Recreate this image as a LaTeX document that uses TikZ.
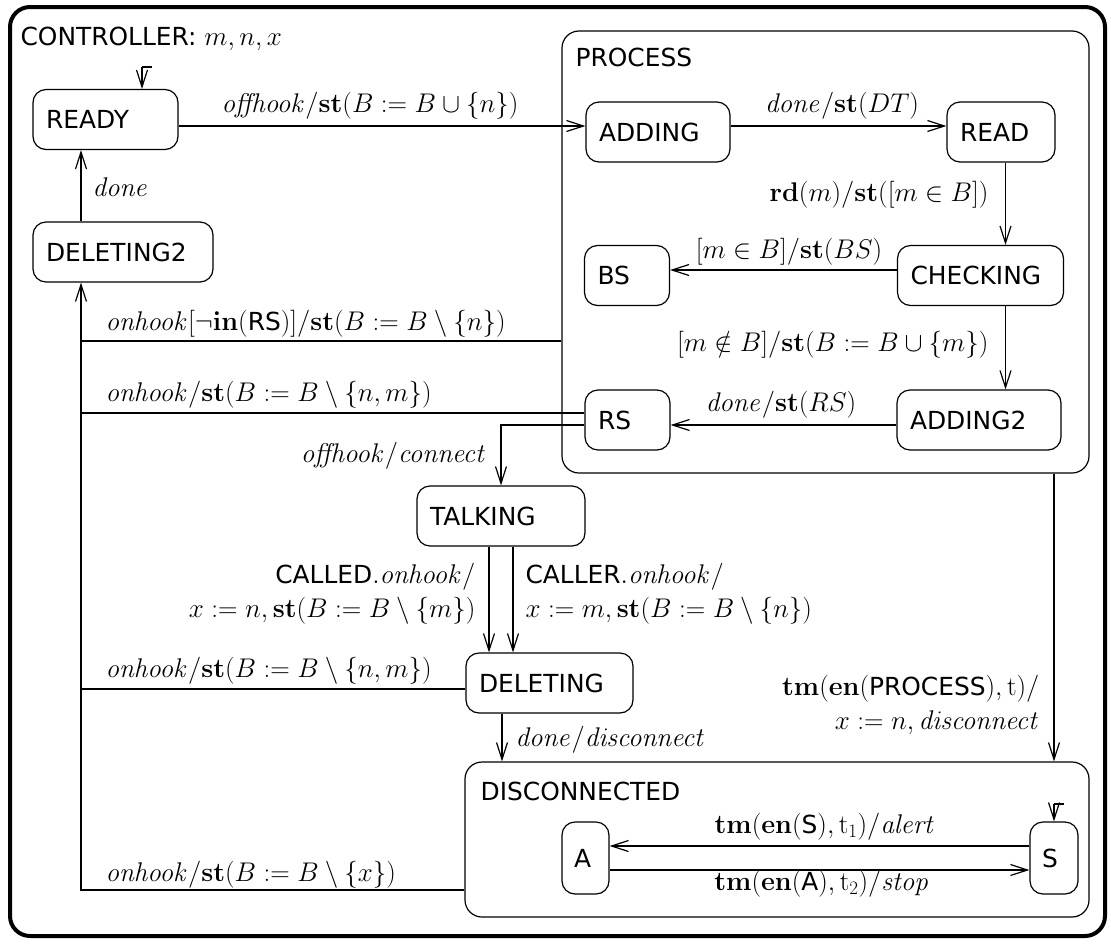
\RequirePackage{fix-cm}
\documentclass[tikz,border=0pt]{standalone}
\usepackage[no-math]{fontspec}
\setsansfont{DejaVu Sans}
\DeclareMathSizes{24.88}{27}{19}{14}
\usetikzlibrary{arrows.meta}
\begin{document}
\begin{tikzpicture}[x=1pt,y=-1pt, line width=1.2pt,
  font=\fontsize{24.88}{34}\selectfont,
  arr/.style={-{Straight Barb[length=17pt,width=11pt]}},
  sf/.style={font=\fontsize{24.88}{34}\selectfont\sffamily},
  sbox/.style={draw, rounded corners=13pt, inner xsep=13pt, inner ysep=0pt,
    minimum height=60pt, align=left, sf},
  cont/.style={draw, rounded corners=17pt, inner sep=0pt},
  lbl/.style={inner sep=0pt}]
\useasboundingbox (0,0) rectangle (1111,943);
% containers
\node[cont, line width=4pt, rounded corners=20pt, minimum width=1095pt, minimum height=929pt] (controller) at (557.5,471.5) {};
\node[cont, minimum width=527pt, minimum height=442pt] (process) at (825.5,252) {};
\node[cont, minimum width=624pt, minimum height=155pt] (disconnected) at (777,839.5) {};
\node[lbl, sf, anchor=base west] (ctllbl) at (20,45) {CONTROLLER: $m, n, x$};
\node[lbl, sf, anchor=base west] (proclbl) at (575,66) {PROCESS};
\node[lbl, sf, anchor=base west] (disclbl) at (480,800) {DISCONNECTED};
% states
\node[sbox, text width=119pt] (ready) at (105.5,119.5) {READY};
\node[sbox, text width=154pt] (deleting2) at (123,252) {DELETING2};
\node[sbox, text width=118pt] (adding) at (658,132) {ADDING};
\node[sbox, text width=82pt] (read) at (1001,132) {READ};
\node[sbox, text width=59pt] (bs) at (627,275.5) {BS};
\node[sbox, text width=140pt] (checking) at (980.5,275.5) {CHECKING};
\node[sbox, text width=138pt] (adding2) at (979,420) {ADDING2};
\node[sbox, text width=59pt] (rs) at (627.5,420) {RS};
\node[sbox, text width=142pt] (talking) at (501,516) {TALKING};
\node[sbox, text width=141pt] (deleting) at (549.5,683) {DELETING};
\node[sbox, inner xsep=12pt, text width=23pt, minimum height=72pt] (a) at (585.5,858) {A};
\node[sbox, inner xsep=12pt, text width=24pt, minimum height=72pt] (s) at (1054,858) {S};
% helper coordinates
\coordinate (h126) at (0,126);
\coordinate (h270) at (0,270);
\coordinate (h425) at (0,425);
\coordinate (h341) at (0,341);
\coordinate (h413) at (0,413);
\coordinate (h689) at (0,689);
\coordinate (h890) at (0,890);
\coordinate (h846) at (0,846);
\coordinate (h870) at (0,870);
\coordinate (v1005) at (1005.5,0);
\coordinate (v489) at (489,0);
\coordinate (v513) at (513,0);
\coordinate (v502) at (502,0);
\coordinate (bus) at (81,0);
\coordinate (i1) at (142,67);
\coordinate (i2) at (1054,804);
% initial markers
\draw[arr] (i1) -- (i1 |- ready.north);
\draw (i1) -- ++(10,0);
\draw[arr] (i2) -- (i2 |- s.north);
\draw (i2) -- ++(10,0);
% transitions
\draw[arr] (ready.east |- h126) -- (adding.west |- h126);
\draw[arr] (adding.east |- h126) -- (read.west |- h126);
\draw[arr] (read.south -| v1005) -- (checking.north -| v1005);
\draw[arr] (checking.west |- h270) -- (bs.east |- h270);
\draw[arr] (checking.south -| v1005) -- (adding2.north -| v1005);
\draw[arr] (adding2.west |- h425) -- (rs.east |- h425);
\draw[arr] (rs.west |- h425) -| (talking.north);
\draw[arr] (talking.south -| v489) -- (deleting.north -| v489);
\draw[arr] (talking.south -| v513) -- (deleting.north -| v513);
\draw[arr] (deleting.south -| v502) -- (disconnected.north -| v502);
\draw[arr] (process.south -| s) -- (disconnected.north -| s);
\draw[arr] (s.west |- h846) -- (a.east |- h846);
\draw[arr] (a.east |- h870) -- (s.west |- h870);
\draw[arr] (deleting2.north -| bus) -- (ready.south -| bus);
\draw[arr] (disconnected.west |- h890) -| (deleting2.south -| bus);
\draw (process.west |- h341) -- (bus |- h341);
\draw (rs.west |- h413) -- (bus |- h413);
\draw (deleting.west |- h689) -- (bus |- h689);
% labels
\node[lbl, anchor=base] (l1) at (370,112) {$\mathit{offhook}/\mathbf{st}(B := B \cup \{n\})$};
\node[lbl, anchor=base] (l2) at (842,112) {$\mathit{done}/\mathbf{st}(DT)$};
\node[lbl, anchor=base east] (l3) at (989,201) {$\mathbf{rd}(m)/\mathbf{st}([m \in B])$};
\node[lbl, anchor=base] (l4) at (789,258) {$[m \in B]/\mathbf{st}(BS)$};
\node[lbl, anchor=base east] (l5) at (989,351) {$[m \notin B]/\mathbf{st}(B := B \cup \{m\})$};
\node[lbl, anchor=base] (l6) at (781,411) {$\mathit{done}/\mathbf{st}(RS)$};
\node[lbl, anchor=base west] (l7) at (105,330) {$\mathit{onhook}[\neg\mathbf{in}(\textsf{RS})]/\mathbf{st}(B := B \setminus \{n\})$};
\node[lbl, anchor=base west] (l8) at (105,401) {$\mathit{onhook}/\mathbf{st}(B := B \setminus \{n, m\})$};
\node[lbl, anchor=base east] (l9) at (487,462) {$\mathit{offhook}/\mathit{connect}$};
\node[lbl, anchor=east, align=right] (l10) at (476,594) {\textsf{CALLED}$.\mathit{onhook}/$\\$x := n, \mathbf{st}(B := B \setminus \{m\})$};
\node[lbl, anchor=west, align=left] (l11) at (525,594) {\textsf{CALLER}$.\mathit{onhook}/$\\$x := m, \mathbf{st}(B := B \setminus \{n\})$};
\node[lbl, anchor=base west] (l12) at (105,677) {$\mathit{onhook}/\mathbf{st}(B := B \setminus \{n, m\})$};
\node[lbl, anchor=base west] (l13) at (515,746) {$\mathit{done}/\mathit{disconnect}$};
\node[lbl, anchor=east, align=right] (l14) at (1040,705) {$\mathbf{tm}(\mathbf{en}(\textsf{PROCESS}),\mathrm{t})/$\\$x := n, \mathit{disconnect}$};
\node[lbl, anchor=base] (l15) at (825,833) {$\mathbf{tm}(\mathbf{en}(\textsf{S}),\mathrm{t}_1)/\mathit{alert}$};
\node[lbl, anchor=base] (l16) at (822,890) {$\mathbf{tm}(\mathbf{en}(\textsf{A}),\mathrm{t}_2)/\mathit{stop}$};
\node[lbl, anchor=base west] (l17) at (105,881) {$\mathit{onhook}/\mathbf{st}(B := B \setminus \{x\})$};
\node[lbl, anchor=base west] (l18) at (92,196) {$\mathit{done}$};
\end{tikzpicture}
\end{document}
